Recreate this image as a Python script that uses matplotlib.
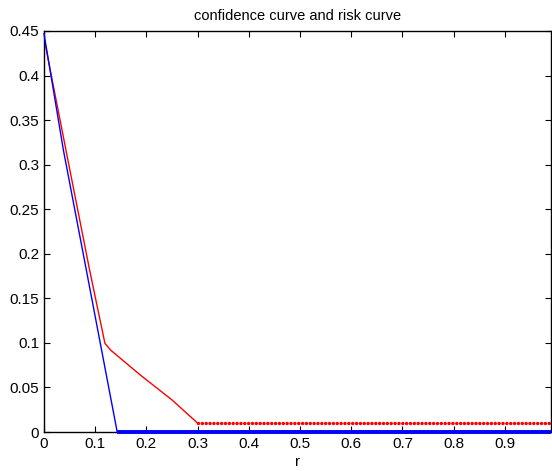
import numpy as np
import matplotlib.pyplot as plt

plt.rcParams['font.family'] = ['Liberation Sans', 'DejaVu Sans']

# risk curve (red)
r_risk = [0.0, 0.043, 0.089, 0.119, 0.13, 0.188, 0.25, 0.30]
risk = [0.442, 0.316, 0.182, 0.0995, 0.092, 0.064, 0.036, 0.01]
r_risk_flat = [0.30, 0.99]
risk_flat = [0.01, 0.01]

# confidence curve (blue)
r_conf = [0.0, 0.038, 0.0826, 0.143]
conf = [0.447, 0.316, 0.182, 0.0]
r_conf_flat = [0.143, 0.99]
conf_flat = [0.0, 0.0]

fig = plt.figure(figsize=(5.52, 4.71), dpi=100)
ax = fig.add_axes([0.0797, 0.0828, 0.9183, 0.8514])

ax.plot(r_risk, risk, color='red', lw=1.0)
ax.plot(r_risk_flat, risk_flat, color='red', lw=2.5,
        linestyle=(0, (0.01, 1.1)), dash_capstyle='round')
ax.plot(r_conf, conf, color='blue', lw=1.0, clip_on=False, zorder=3)
ax.plot(r_conf_flat, conf_flat, color='blue', lw=2.8, solid_capstyle='butt',
        clip_on=False, zorder=3)

ax.set_xlim(0, 0.99)
ax.set_ylim(0, 0.45)
ax.set_xticks(np.arange(0, 0.95, 0.1))
ax.set_xticklabels(['0', '0.1', '0.2', '0.3', '0.4', '0.5', '0.6', '0.7', '0.8', '0.9'])
ax.set_yticks(np.arange(0, 0.46, 0.05))
ax.set_yticklabels(['0', '0.05', '0.1', '0.15', '0.2', '0.25', '0.3', '0.35', '0.4', '0.45'])
ax.tick_params(direction='in', top=True, right=True, length=4, labelsize=11, width=0.8)
for s in ax.spines.values():
    s.set_linewidth(1.0)

ax.set_xlabel('r', fontsize=11, labelpad=3)
ax.set_title('confidence curve and risk curve', fontsize=10.5, pad=8)

fig.savefig('out.png', dpi=100)
